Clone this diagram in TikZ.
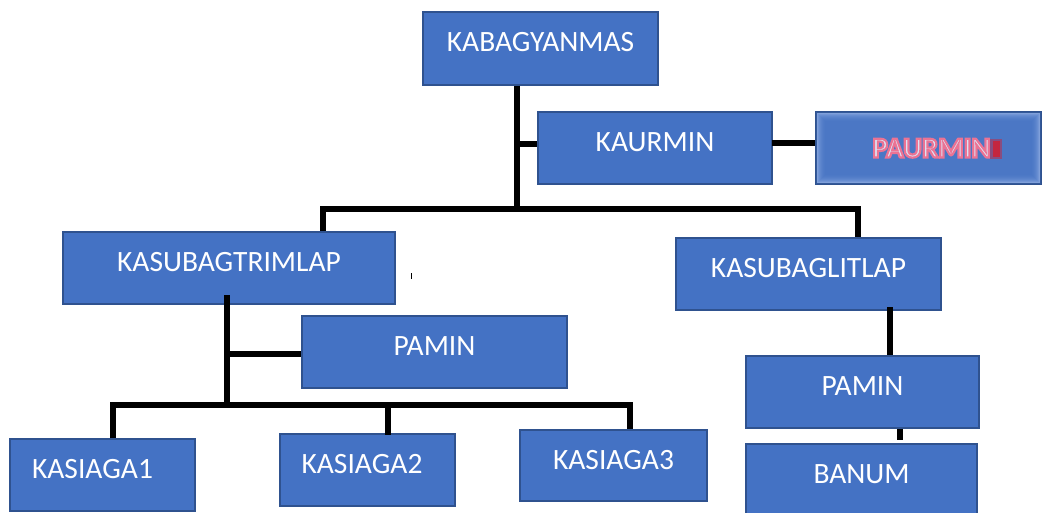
\documentclass[tikz,border=0pt]{standalone}
\usepackage{fontspec}
\setmainfont{Carlito}
\newfontfamily\paurfont{Carlito}[UprightFont=*-Bold,Extension=.ttf]
\definecolor{boxblue}{HTML}{4472C4}
\definecolor{boxline}{HTML}{2F528F}
\definecolor{glowblue}{HTML}{A9BFEA}
\definecolor{paurtext}{HTML}{DCE2F4}
\newcommand\redrim[1]{\special{pdf:literal direct 0.92 0.45 0.58 RG 2.2 w 2 Tr}#1\special{pdf:literal direct 0 Tr}}
\begin{document}
\begin{tikzpicture}[
		x=1pt,y=-1pt,
		box/.style={rectangle,draw=boxline,fill=boxblue,line width=1.5pt,inner sep=0pt,
				text=white,font=\fontsize{29.5}{34}\selectfont,text height=18pt,text depth=11pt,
				minimum height=72pt},
		pbox/.style={box,fill=glowblue},
		ptext/.style={inner sep=0pt,font=\paurfont\fontsize{29}{34}\selectfont,text height=19pt,text depth=0pt},
		conn/.style={line width=5.5pt,black,line join=miter}
	]
	\useasboundingbox (0,0) rectangle (1044,513);

	% boxes
	\node[box,minimum width=235pt,minimum height=73pt] (kabag) at (540.5,48.5) {KABAGYANMAS};
	\node[box,minimum width=234pt] (kaurmin) at (655,148) {KAURMIN};
	\node[pbox,minimum width=225pt] (paurmin) at (928.5,148) {};
	\foreach \i in {1,...,10}
		\fill[boxblue,opacity=0.22] ([xshift=\i pt,yshift=-\i pt]paurmin.north west) rectangle ([xshift=-\i pt,yshift=\i pt]paurmin.south east);
	\fill[red,opacity=0.35] (990,139) rectangle (1002,159);
	\fill[red,opacity=0.5] (993,141) rectangle (1000,157);
	\node[ptext,text=paurtext] (paurlbl) at ([xshift=3pt]paurmin.center) {\redrim{PAURMIN}};
	\node[box,minimum width=332pt] (trimlap) at (229,268) {KASUBAGTRIMLAP};
	\node[box,minimum width=265pt] (litlap) at (808.5,274) {KASUBAGLITLAP};
	\node[box,minimum width=265pt] (paminl) at (434.5,352) {PAMIN};
	\node[box,minimum width=233pt] (paminr) at (862.5,392) {PAMIN};
	\node[box,minimum width=231pt] (banum) at (861.5,480) {BANUM};
	\node[box,minimum width=185pt] (siaga1) at (102.5,475) {\kern-20pt KASIAGA1};
	\node[box,minimum width=175pt] (siaga2) at (367.5,470) {\kern-11pt KASIAGA2};
	\node[box,minimum width=187pt,minimum height=71pt] (siaga3) at (613.5,465.5) {KASIAGA3};

	% junctions
	\coordinate (t1) at (517,212);
	\coordinate (k1) at (517,144);
	\coordinate (k2) at (772,143);
	\coordinate (b1) at (323,209);
	\coordinate (b2) at (858,209);
	\coordinate (t2a) at (227,295);
	\coordinate (t2) at (227,405);
	\coordinate (t3) at (227,354);
	\coordinate (c1) at (113,405);
	\coordinate (c2) at (388,405);
	\coordinate (c3) at (630,405);
	\coordinate (d1) at (890,307);
	\coordinate (d2) at (900,440);

	% connectors
	\draw[conn] (kabag.south -| t1) -- (t1);
	\draw[conn] (k1) -- (k1 -| kaurmin.west);
	\draw[conn] (k2) -- (k2 -| paurmin.west);
	\draw[conn] (trimlap.north -| b1) -- (b1) -- (b2) -- (litlap.north -| b2);
	\draw[conn] (t2a) -- (t2);
	\draw[conn] (t3) -- (t3 -| paminl.west);
	\draw[conn] (siaga1.north -| c1) -- (c1) -- (c3) -- (siaga3.north -| c3);
	\draw[conn] (c2) -- ([yshift=-2pt]c2 |- siaga2.north);
	\draw[conn] (d1) -- (d1 |- paminr.north);
	\draw[conn] (paminr.south -| d2) -- (d2);
	\fill (410.5,273) rectangle (411.5,279);
\end{tikzpicture}
\end{document}
